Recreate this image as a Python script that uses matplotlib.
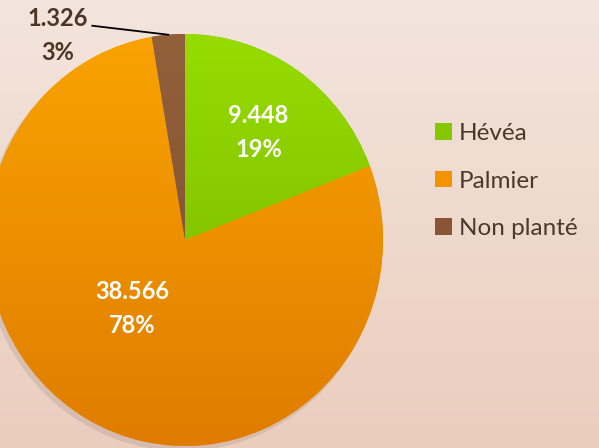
import numpy as np
import matplotlib.pyplot as plt
from matplotlib.colors import LinearSegmentedColormap
from matplotlib.patches import Circle

# donnees
categories = ['Hévéa', 'Palmier', 'Non planté']
valeurs = [9.448, 38.566, 1.326]
etiquettes = ['9.448', '38.566', '1.326']
pourcents = ['19%', '78%', '3%']

couleurs = ['#86c800', '#f29400', '#8a5536']
degrades = [('#96dc00', '#74b000'), ('#f9a300', '#df7c00'), ('#93603c', '#7e4c2e')]

plt.rcParams['font.family'] = ['Lato', 'DejaVu Sans']

# le camembert est un peu ecrase horizontalement
sx = 206 / 198.0
W, H = 599, 448

fig = plt.figure(figsize=(5.99, 4.48), dpi=100)
ax = fig.add_axes([0, 0, 1, 1])

def px(x):
    return x * sx

centre = (px(185), H - 240)
rayon = 206

grad = np.linspace(0, 1, 256).reshape(-1, 1)

# ombre
ax.add_patch(Circle((centre[0] - 3, centre[1] - 4), rayon + 1, color='#9a8a8a', alpha=0.25, lw=0, zorder=1))

wedges, _ = ax.pie(valeurs, colors=couleurs, startangle=90, counterclock=False,
                   center=centre, radius=rayon, frame=True)
ax.set_aspect('auto')
ax.set_xlim(0, px(W))
ax.set_ylim(0, H)
ax.axis('off')

# fond en degrade
fond = LinearSegmentedColormap.from_list('fond', ['#ebcdbd', '#f3e5dd'])
ax.imshow(grad, cmap=fond, extent=[0, px(W), 0, H], origin='lower', aspect='auto', zorder=0)

for w, (c1, c2) in zip(wedges, degrades):
    w.set_zorder(2)
    cm = LinearSegmentedColormap.from_list('g', [c2, c1])
    im = ax.imshow(grad, cmap=cm, extent=[centre[0] - rayon, centre[0] + rayon,
                                          centre[1] - rayon, centre[1] + rayon],
                   origin='lower', aspect='auto', zorder=3)
    im.set_clip_path(w)
    w.set_edgecolor('none')
ax.set_xlim(0, px(W))
ax.set_ylim(0, H)

# etiquettes dans les secteurs
dist = [0.64, 0.425]
decal = [-1, -9]
for i in range(2):
    w = wedges[i]
    ang = np.deg2rad((w.theta1 + w.theta2) / 2 + decal[i])
    x = centre[0] + dist[i] * rayon * np.cos(ang)
    y = centre[1] + dist[i] * rayon * np.sin(ang)
    ax.text(x, y, etiquettes[i] + '\n' + pourcents[i], ha='center', va='center',
            color='white', fontsize=17, fontweight='bold', linespacing=1.6, zorder=5)

# etiquette exterieure avec ligne de rappel
w = wedges[2]
ang = np.deg2rad((w.theta1 + w.theta2) / 2)
xe = centre[0] + rayon * np.cos(ang)
ye = centre[1] + rayon * np.sin(ang)
ax.plot([xe, xe - px(76)], [ye, ye + 9], color='black', lw=1.3, zorder=5)
ax.text(xe - px(111), ye - 1, etiquettes[2] + '\n' + pourcents[2], ha='center', va='center',
        color='#4b3526', fontsize=17, fontweight='bold', linespacing=1.6, zorder=5)

leg = ax.legend(wedges, categories, loc='center left', bbox_to_anchor=(435 / W, 1 - 181 / H),
                frameon=False, fontsize=17.5, labelcolor='#4b3a2c', handlelength=0.68,
                handleheight=0.68, handletextpad=0.3, labelspacing=1.1,
                borderaxespad=0, borderpad=0)

fig.savefig('out.png', dpi=100)
